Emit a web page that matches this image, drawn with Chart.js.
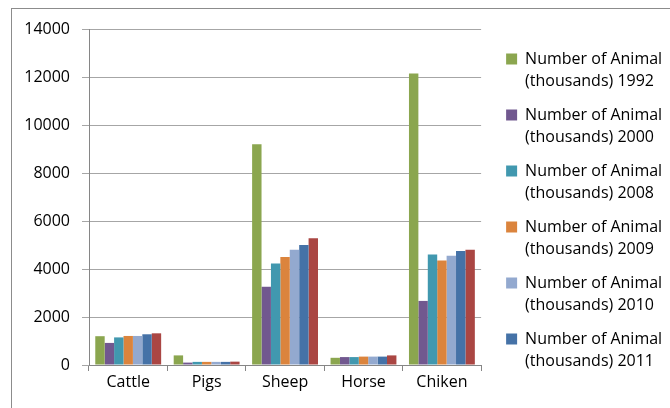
<!DOCTYPE html>
<html>
<head>
<meta charset="utf-8">
<script src="https://cdn.jsdelivr.net/npm/chart.js@4/dist/chart.umd.min.js"></script>
<style>
  html, body { margin: 0; padding: 0; background: #fff; overflow: hidden; }
  #frame { position: absolute; left: 11px; top: 8px; width: 700px; height: 450px; border: 1px solid #8c8c8c; box-sizing: border-box; }
  #wrap { position: absolute; left: 0; top: 0; width: 670px; height: 408px; }
</style>
</head>
<body>
<div id="frame"></div>
<div id="wrap"><canvas id="c" width="670" height="408"></canvas></div>
<script>
const categories = ["Cattle", "Pigs", "Sheep", "Horse", "Chiken"];
const seriesNames = [
  "Number of Animal (thousands) 1992",
  "Number of Animal (thousands) 2000",
  "Number of Animal (thousands) 2008",
  "Number of Animal (thousands) 2009",
  "Number of Animal (thousands) 2010",
  "Number of Animal (thousands) 2011",
  "Number of Animal (thousands) 2012"
];
const values1992 = [1200, 400, 9200, 300, 12150];
const values2000 = [920, 100, 3260, 330, 2670];
const values2008 = [1150, 130, 4230, 330, 4600];
const values2009 = [1210, 130, 4500, 350, 4350];
const values2010 = [1210, 130, 4800, 350, 4550];
const values2011 = [1280, 130, 5000, 350, 4750];
const values2012 = [1320, 140, 5280, 400, 4800];
const yTicks = [0, 2000, 4000, 6000, 8000, 10000, 12000, 14000];

const colors = ["#8BA64F", "#71588F", "#4198AF", "#DB843D", "#93A9CF", "#4572A7", "#AA4643"];
const allValues = [values1992, values2000, values2008, values2009, values2010, values2011, values2012];

const datasets = allValues.map((vals, i) => ({
  label: seriesNames[i],
  data: vals,
  backgroundColor: colors[i],
  borderWidth: 0,
  categoryPercentage: 0.84,
  barPercentage: 1.0,
  yAxisID: 'y'
}));

Chart.defaults.font.family = "'Open Sans', sans-serif";
Chart.defaults.color = "#000";

new Chart(document.getElementById('c'), {
  type: 'bar',
  data: { labels: categories, datasets: datasets },
  options: {
    responsive: false,
    animation: false,
    layout: { padding: { top: 29, left: 0, right: 6, bottom: 0 } },
    plugins: {
      tooltip: { enabled: false },
      legend: {
        position: 'right',
        align: 'start',
        maxWidth: 240,
        title: { display: true, text: '', font: { size: 10, lineHeight: 1 }, padding: 0 },
        labels: {
          boxWidth: 11,
          boxHeight: 11,
          padding: 12,
          color: '#000',
          font: { size: 16, lineHeight: 1.375 },
          filter: (item) => item.datasetIndex < 6,
          generateLabels: (chart) => chart.data.datasets.map((ds, i) => {
            const parts = ds.label.split(' (');
            return {
              text: [parts[0], '(' + parts[1]],
              fillStyle: ds.backgroundColor,
              strokeStyle: ds.backgroundColor,
              lineWidth: 0,
              hidden: false,
              datasetIndex: i
            };
          })
        }
      }
    },
    scales: {
      x: {
        grid: { drawOnChartArea: false, drawTicks: true, tickLength: 6, color: '#868686', offset: true },
        border: { color: '#868686', width: 1 },
        ticks: { font: { size: 16 }, padding: 2, color: '#000' },
        afterFit: (s) => { s.height = 43; }
      },
      y: {
        min: 0, max: 14000,
        afterBuildTicks: (s) => { s.ticks = yTicks.map(v => ({ value: v })); },
        grid: { color: '#A6A6A6', lineWidth: 1, tickLength: 7, drawTicks: true },
        border: { color: '#868686', width: 1 },
        ticks: { font: { size: 16 }, padding: 12, color: '#000', callback: (v) => String(v) },
        afterFit: (s) => { s.width = 89; }
      },
      gap: {
        type: 'linear',
        position: 'right',
        display: true,
        grid: { display: false, drawTicks: false },
        border: { display: false },
        ticks: { display: false },
        afterFit: (s) => { s.width = 13; }
      }
    }
  }
});
</script>
</body>
</html>
